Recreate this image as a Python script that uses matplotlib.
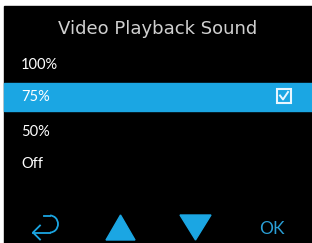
import matplotlib.pyplot as plt
from matplotlib.patches import Rectangle, Polygon, Arc

title = "Video Playback Sound"
options = ["100%", "75%", "50%", "Off"]
option_y = [65, 96.5, 132, 164]
selected = 1
blue = "#1ba6e3"

fig = plt.figure(figsize=(3.12, 2.43), dpi=100)
fig.patch.set_facecolor("white")
ax = fig.add_axes([0, 0, 1, 1])
ax.set_xlim(0, 312)
ax.set_ylim(243, 0)
ax.axis("off")

# black screen
ax.add_patch(Rectangle((3.5, 6), 309, 237, color="black"))

ax.text(158, 29, title, color="#d0d0d0", fontsize=13, family="DejaVu Sans",
        ha="center", va="center")

# highlighted row
ax.add_patch(Rectangle((3.5, 82.5), 309, 28, color=blue))

for i, lab in enumerate(options):
    ax.text(21, option_y[i], lab, color="white", fontsize=10.5, family="Lato",
            ha="left", va="center")

# checkbox
ax.add_patch(Rectangle((277, 89), 14, 14, fill=False, ec="#e8f6ff", lw=1.5))
ax.plot([280, 283, 288], [95.5, 99.5, 92], color="#e8f6ff", lw=1.4)

# bottom buttons
ax.add_patch(Polygon([[106, 240], [135, 240], [120.5, 215]], color=blue))
ax.add_patch(Polygon([[180, 215], [211, 215], [195.5, 240]], color=blue))
ax.text(271.5, 229, "OK", color="#2a9fd6", fontsize=12.5, family="Lato",
        ha="center", va="center")

# return arrow
ax.add_patch(Arc((50, 224), 16, 17, theta1=-90, theta2=90, color=blue, lw=1.3))
ax.plot([44, 50], [215.5, 215.5], color=blue, lw=1.3)
ax.plot([50, 33], [232.5, 232.5], color=blue, lw=1.3)
ax.plot([40, 33, 40], [225.5, 232.5, 239.5], color=blue, lw=1.3)

fig.savefig("out.png", dpi=100, facecolor="white")
